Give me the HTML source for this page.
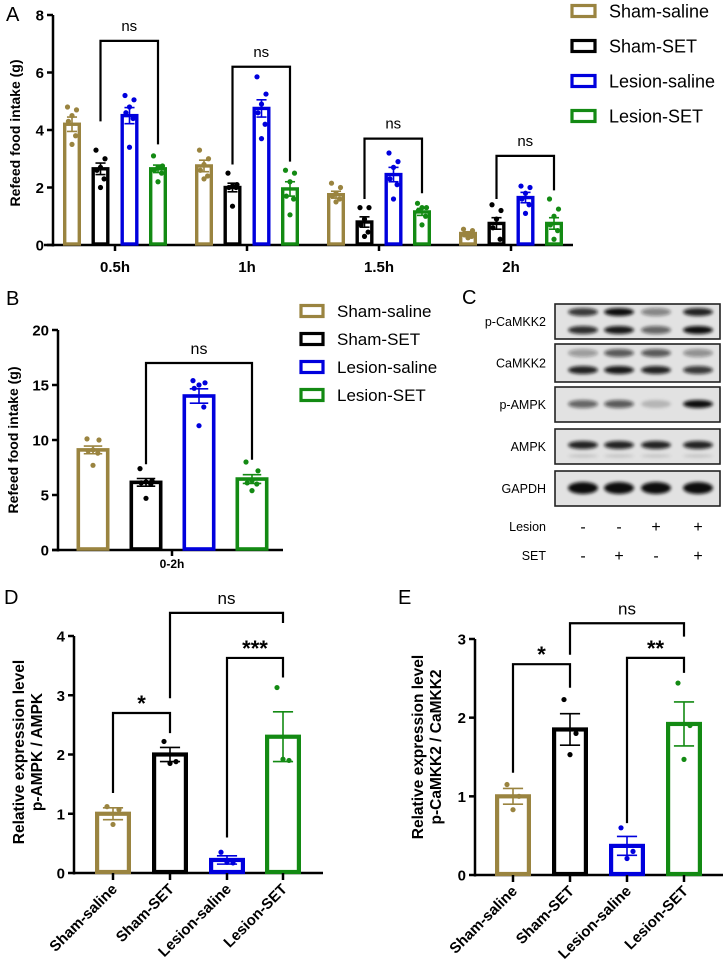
<!DOCTYPE html>
<html><head><meta charset="utf-8"><style>
html,body{margin:0;padding:0;background:#fff;}
svg{display:block;font-family:"Liberation Sans",Arial,sans-serif;}
</style></head><body>
<svg id="fig" width="726" height="976" viewBox="0 0 726 976" xmlns="http://www.w3.org/2000/svg">
<defs><filter id="blur" x="-20%" y="-200%" width="140%" height="500%"><feGaussianBlur stdDeviation="1.6"/></filter></defs>
<text x="6" y="21" font-size="20">A</text>
<text x="6" y="305" font-size="20">B</text>
<text x="462" y="304" font-size="20">C</text>
<text x="4" y="604" font-size="20">D</text>
<text x="398" y="604" font-size="20">E</text>
</svg>
<script>
const groupNames = ['Sham-saline','Sham-SET','Lesion-saline','Lesion-SET'];
// Panel A
const aTimes = ['0.5h','1h','1.5h','2h'];
const aMeans = [[4.2,2.65,4.5,2.65],[2.75,2.0,4.75,1.95],[1.75,0.8,2.45,1.15],[0.4,0.75,1.65,0.75]];
const aErrs = [[0.25,0.2,0.28,0.13],[0.2,0.15,0.3,0.25],[0.12,0.18,0.25,0.12],[0.06,0.2,0.18,0.2]];
const aPoints = [
 [[4.8,4.7,4.5,4.3,3.8,3.5],[3.3,3.0,2.7,2.6,2.3,2.0],[5.2,5.05,4.8,4.6,4.4,3.4],[3.1,2.75,2.7,2.6,2.5,2.2]],
 [[3.3,3.0,2.8,2.6,2.4,2.3],[2.5,2.1,2.05,2.0,2.0,1.35],[5.85,5.25,4.9,4.6,4.2,3.7],[2.6,2.5,2.2,1.7,1.6,1.05]],
 [[2.15,2.0,1.8,1.7,1.6,1.5],[1.3,1.3,0.9,0.7,0.45,0.3],[3.2,2.9,2.7,2.3,2.1,1.6],[1.45,1.3,1.3,1.2,1.0,0.7]],
 [[0.55,0.5,0.4,0.35,0.3,0.25],[1.4,1.2,0.9,0.6,0.2],[2.05,2.0,1.8,1.6,1.4,1.1],[1.6,1.25,1.0,0.7,0.5,0.2]]];
const aTicks = [0,2,4,6,8];
const aSig = [['ns',7.1,4.3,3.5],['ns',6.2,2.8,2.9],['ns',3.7,1.6,1.8],['ns',3.1,1.6,1.9]];
// Panel B
const bCategory = ['0-2h'];
const bMeans = [9.1,6.15,14.0,6.45];
const bErrs = [0.35,0.35,0.65,0.4];
const bPoints = [[10.1,10.0,9.1,9.0,8.8,7.7],[7.4,6.3,6.2,6.1,6.0,4.7],[15.4,15.2,15.0,14.7,13.0,11.3],[8.0,7.2,6.3,6.1,6.0,5.4]];
const bTicks = [0,5,10,15,20];
// Panel D
const dMeans = [1.0,2.0,0.22,2.3];
const dErrs = [0.1,0.12,0.07,0.42];
const dPoints = [[1.12,1.07,0.82],[2.22,1.88,1.85],[0.35,0.17,0.18],[3.13,1.9,1.92]];
const dTicks = [0,1,2,3,4];
// Panel E
const eMeans = [1.0,1.85,0.37,1.92];
const eErrs = [0.1,0.2,0.12,0.28];
const ePoints = [[1.15,1.0,0.83],[2.23,1.8,1.53],[0.6,0.3,0.21],[2.44,1.9,1.47]];
const eTicks = [0,1,2,3];
// Panel C
const blotRows = ['p-CaMKK2','CaMKK2','p-AMPK','AMPK','GAPDH'];
const blotIntensity = [[[0.8,1,0.45,0.9],[0.85,0.95,0.6,1]],[[0.35,0.65,0.65,0.4],[0.9,0.95,0.9,0.8]],[[0.6,0.65,0.2,1]],[[0.9,0.9,0.9,0.9],[0.15,0.15,0.15,0.15]],[[1,1,1,1]]];
const lesionSigns = ['-','-','+','+'];
const setSigns = ['-','+','-','+'];

const colors = ['#9a8440','#000000','#0000dd','#138a13'];
const NS='http://www.w3.org/2000/svg';
const svg=document.getElementById('fig');
function mk(tag,attrs,parent){const e=document.createElementNS(NS,tag);for(const k in attrs)e.setAttribute(k,attrs[k]);(parent||svg).appendChild(e);return e;}
function txt(s,attrs,parent){const e=mk('text',attrs,parent);e.textContent=s;return e;}

function makePanel(o){
  const y=v=>o.y0-(v-o.ticks[0])/(o.ticks[o.ticks.length-1]-o.ticks[0])*(o.y0-o.y1);
  const g=mk('g',{});
  
  
  const ax=mk('line',{x1:o.ax,y1:o.y0+1.5,x2:o.ax,y2:y(o.ticks[o.ticks.length-1]),stroke:'#000','stroke-width':2.5},g);
  
  
  const xa=mk('line',{x1:o.xStart,y1:o.y0,x2:o.xEnd,y2:o.y0,stroke:'#000','stroke-width':2.5},g);
  
  
  o.ticks.forEach(t=>{
    mk('line',{x1:o.ax-6,y1:y(t),x2:o.ax,y2:y(t),stroke:'#000','stroke-width':2.5},g);
    const tl=txt(String(t),{x:o.ax-9,y:y(t)+5.5,'font-size':o.tickFs,'font-weight':'bold','text-anchor':'end'},g);
    
    
  });
  const yl=mk('text',{transform:`translate(${o.ylx},${o.yly}) rotate(-90)`,'font-size':o.ylFs,'font-weight':'bold','text-anchor':'middle'},g);
  
  
  o.ylabel.forEach((l,i)=>{const ts=mk('tspan',{x:0,dy:i?o.ylFs*1.15:0},yl);ts.textContent=l;});
  return {y,g};
}
function drawBar(P,cx,w,mean,err,pts,col,sw,name,jit){
  const y=P.y;
  const r=mk('rect',{x:cx-w/2+sw/2,y:y(mean),width:w-sw,height:y(0)-y(mean)-1,fill:'#fff',stroke:col,'stroke-width':sw},P.g);
  
  
  const cap=w*0.28;
  mk('line',{x1:cx,y1:y(mean-err),x2:cx,y2:y(mean+err),stroke:col,'stroke-width':1.6},P.g);
  mk('line',{x1:cx-cap,y1:y(mean+err),x2:cx+cap,y2:y(mean+err),stroke:col,'stroke-width':1.6},P.g);
  mk('line',{x1:cx-cap,y1:y(mean-err),x2:cx+cap,y2:y(mean-err),stroke:col,'stroke-width':1.6},P.g);
  const offs=[-0.5,0.5,0,-0.4,0.4,0];
  pts.forEach((v,i)=>{
    const d=mk('circle',{cx:cx+offs[i%offs.length]*jit,cy:y(v),r:2.6,fill:col},P.g);
    
    
  });
}
function bracket(P,x1,x2,top,l,r,label,fs,dy){
  const y=P.y;
  const p=mk('path',{d:`M${x1},${y(l)}V${y(top)}H${x2}V${y(r)}`,fill:'none',stroke:'#000','stroke-width':2.2},P.g);
  
  
  const t=txt(label,{x:(x1+x2)/2,y:y(top)-dy,'font-size':fs,'text-anchor':'middle','font-weight':label==='ns'?'normal':'bold'},P.g);
  
  
}
function legend(x,y0,step,fs,sq){
  const g=mk('g',{});
  
  
  groupNames.forEach((n,i)=>{
    const yy=y0+i*step;
    const r=mk('rect',{x:x,y:yy-sq[1]/2,width:sq[0],height:sq[1],fill:'#fff',stroke:colors[i],'stroke-width':3.2},g);
    
    
    const t=txt(n,{x:x+sq[0]+14,y:yy+fs*0.36,'font-size':fs},g);
    
    
  });
}

// ---- Panel A
const PA=makePanel({name:'panel-a-chart',ticks:aTicks,y0:245,y1:15,ax:53,xStart:44,xEnd:573,tickFs:15,ylabel:['Refeed food intake (g)'],ylx:20,yly:133,ylFs:14});
const aCenter=i=>115+i*132;
const aOff=[-43,-14.5,14.5,43];
aTimes.forEach((t,i)=>{
  const cx=aCenter(i);
  mk('line',{x1:cx,y1:245,x2:cx,y2:251,stroke:'#000','stroke-width':2.5},PA.g);
  const tl=txt(t,{x:cx,y:272,'font-size':15,'font-weight':'bold','text-anchor':'middle'},PA.g);
  
  
  for(let k=0;k<4;k++) drawBar(PA,cx+aOff[k],18,aMeans[i][k],aErrs[i][k],aPoints[i][k],colors[k],3.4,'bar-a-'+i+'-'+k,9);
  const s=aSig[i];
  bracket(PA,cx+aOff[1],cx+aOff[3],s[1],s[2],s[3],s[0],15,10);
});
legend(572,11,35,18,[23,11]);

// ---- Panel B
const PB=makePanel({name:'panel-b-chart',ticks:bTicks,y0:550,y1:330,ax:58,xStart:52,xEnd:283,tickFs:15,ylabel:['Refeed food intake (g)'],ylx:18,yly:440,ylFs:14});
const bX=[93,146,199,252];
bMeans.forEach((m,k)=>drawBar(PB,bX[k],33,m,bErrs[k],bPoints[k],colors[k],3.6,'bar-b-'+k,12));
mk('line',{x1:172,y1:550,x2:172,y2:556,stroke:'#000','stroke-width':2.5},PB.g);
const bl=txt(bCategory[0],{x:172,y:568,'font-size':12,'font-weight':'bold','text-anchor':'middle'},PB.g);


bracket(PB,bX[1],bX[3],17,7.8,8.2,'ns',16,9);
legend(301,311,28,17,[22,11]);

// ---- Panel C blots
(function(){
  const g=mk('g',{});
  
  
  const rows=[[304,339,[312,330]],[344,382,[353,370]],[387,422,[404]],[429,464,[445,456]],[471,506,[488]]];
  const lanes=[583,619,656,698];
  rows.forEach((r,i)=>{
    const b=mk('rect',{x:555,y:r[0],width:165,height:r[1]-r[0],fill:'#e2e2e2',stroke:'#222','stroke-width':1.6},g);
    
    
    r[2].forEach((by,j)=>{
      lanes.forEach((lx,l)=>{
        const v=blotIntensity[i][j][l];
        const h=i===4?6:(j===1&&i===3?1.5:4);
        mk('ellipse',{cx:lx,cy:by,rx:15,ry:h,fill:'#111','fill-opacity':v,filter:'url(#blur)'},g);
      });
    });
    const t=txt(blotRows[i],{x:546,y:(r[0]+r[1])/2+4.5,'font-size':12.5,'text-anchor':'end'},g);
    
    
  });
  const l1=txt('Lesion',{x:546,y:531,'font-size':12.5,'text-anchor':'end'},g);
  
  
  const l2=txt('SET',{x:546,y:560,'font-size':12.5,'text-anchor':'end'},g);
  
  
  lanes.forEach((lx,l)=>{
    txt(lesionSigns[l],{x:lx,y:532,'font-size':16,'text-anchor':'middle'},g);
    txt(setSigns[l],{x:lx,y:561,'font-size':16,'text-anchor':'middle'},g);
  });
})();

// ---- Panel D / E
function rotLabels(P,xs,y0){
  groupNames.forEach((n,k)=>{
    mk('line',{x1:xs[k],y1:y0,x2:xs[k],y2:y0+7,stroke:'#000','stroke-width':2.5},P.g);
    const t=txt(n,{transform:`translate(${xs[k]+5},${y0+17}) rotate(-45)`,'font-size':15,'font-weight':'bold','text-anchor':'end'},P.g);
    
    
  });
}
const PD=makePanel({name:'panel-d-chart',ticks:dTicks,y0:873,y1:636,ax:74,xStart:73,xEnd:323,tickFs:15,ylabel:['Relative expression level','p-AMPK / AMPK'],ylx:24,yly:752,ylFs:15.5});
const dX=[113,170,227,283];
dMeans.forEach((m,k)=>drawBar(PD,dX[k],36,m,dErrs[k],dPoints[k],colors[k],4.2,'bar-d-'+k,12));
rotLabels(PD,dX,873);
bracket(PD,dX[0],dX[1],2.7,1.35,2.36,'*',22,2);
bracket(PD,dX[2],dX[3],3.63,0.6,3.3,'***',22,2);
bracket(PD,dX[1],dX[3],4.39,2.95,4.22,'ns',17,9);

const PE=makePanel({name:'panel-e-chart',ticks:eTicks,y0:875,y1:639,ax:475,xStart:474,xEnd:723,tickFs:15,ylabel:['Relative expression level','p-CaMKK2 / CaMKK2'],ylx:423,yly:747,ylFs:15.5});
const eX=[513,570,627,684];
eMeans.forEach((m,k)=>drawBar(PE,eX[k],36,m,eErrs[k],ePoints[k],colors[k],4.2,'bar-e-'+k,12));
rotLabels(PE,eX,875);
bracket(PE,eX[0],eX[1],2.68,1.3,2.38,'*',22,2);
bracket(PE,eX[2],eX[3],2.76,0.66,2.57,'**',22,2);
bracket(PE,eX[1],eX[3],3.2,2.8,3.03,'ns',17,9);
</script>
</body></html>
